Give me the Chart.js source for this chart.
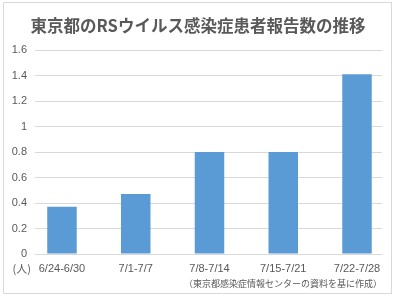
<!DOCTYPE html>
<html>
<head>
<meta charset="utf-8">
<script src="https://cdn.jsdelivr.net/npm/chart.js@4/dist/chart.umd.min.js"></script>
<style>
   html, body { margin: 0; padding: 0; background: #fff; }
   #wrap { width: 396px; height: 298px; }
</style>
</head>
<body>
<div id="wrap"><canvas id="rsChart" width="396" height="298"></canvas></div>
<script>
// #region Data
const categories = ['6/24-6/30', '7/1-7/7', '7/8-7/14', '7/15-7/21', '7/22-7/28'];
const reports = [0.37, 0.47, 0.8, 0.8, 1.41];
const yMax = 1.6;
const yStep = 0.2;
const titleText = '東京都のRSウイルス感染症患者報告数の推移';
const unitText = '(人)';
const sourceText = '（東京都感染症情報センターの資料を基に作成）';
// #endregion

const textGray = '#595959';
const gridGray = '#d9d9d9';
const barBlue = '#5b9bd5';
const jpFont = '"Noto Sans CJK JP", "Noto Sans", sans-serif';
const numFont = '"Liberation Sans", Arial, sans-serif';

// frame, unit label and source note
const framePlugin = {
   id: 'frame',
   beforeDraw(chart) {
      const ctx = chart.ctx;
      ctx.save();
      ctx.fillStyle = '#fff';
      ctx.fillRect(0, 0, chart.width, chart.height);
      ctx.strokeStyle = gridGray;
      ctx.lineWidth = 1;
      ctx.strokeRect(3.5, 2.5, 388, 291);
      ctx.restore();
   },
   afterDraw(chart) {
      const ctx = chart.ctx;
      const area = chart.chartArea;
      const x = chart.scales.x;
      ctx.save();
      ctx.fillStyle = textGray;
      ctx.textBaseline = 'middle';
      ctx.font = '11px ' + jpFont;
      ctx.textAlign = 'right';
      ctx.fillText(unitText, area.left - 4, x.top + 15);
      ctx.font = '9px ' + jpFont;
      ctx.fillText(sourceText, area.right, x.top + 30);
      ctx.restore();
   }
};

const config = {
   type: 'bar',
   data: {
      datasets: [{
         data: reports.map((v, i) => ({ x: i, y: v })),
         backgroundColor: barBlue,
         borderWidth: 0,
         barPercentage: 0.4,
         categoryPercentage: 1
      }]
   },
   options: {
      responsive: false,
      animation: false,
      layout: { padding: 0 },
      plugins: {
         legend: { display: false },
         tooltip: { enabled: false },
         title: {
            display: true,
            text: titleText,
            color: textGray,
            font: { family: jpFont, size: 16.5, weight: 'bold', lineHeight: 1.2 },
            padding: { top: 15.6, bottom: 14.6 }
         }
      },
      scales: {
         x: {
            type: 'linear',
            offset: false,
            min: -0.366,
            max: 4.339,
            afterBuildTicks: (scale) => {
               scale.ticks = categories.map((c, i) => ({ value: i }));
            },
            afterFit: (scale) => { scale.height = 44; },
            grid: { display: false, drawTicks: false },
            border: { display: false },
            ticks: {
               autoSkip: false,
               maxRotation: 0,
               padding: 8,
               color: textGray,
               font: { family: numFont, size: 11 },
               callback: (v) => categories[v]
            }
         },
         y: {
            min: 0,
            max: yMax,
            afterFit: (scale) => { scale.width = 35; },
            grid: { color: gridGray, lineWidth: 1, drawTicks: false },
            border: { display: false },
            ticks: {
               stepSize: yStep,
               padding: 8,
               color: textGray,
               font: { family: numFont, size: 11 },
               callback: (v) => String(Math.round(v * 10) / 10)
            }
         },
         // empty right margin so the title stays centred on the canvas
         yRight: {
            position: 'right',
            afterFit: (scale) => { scale.width = 14; },
            grid: { display: false, drawTicks: false },
            border: { display: false },
            ticks: { display: false }
         }
      }
   },
   plugins: [framePlugin]
};

const rsChart = new Chart(document.getElementById('rsChart'), config);
</script>
</body>
</html>
